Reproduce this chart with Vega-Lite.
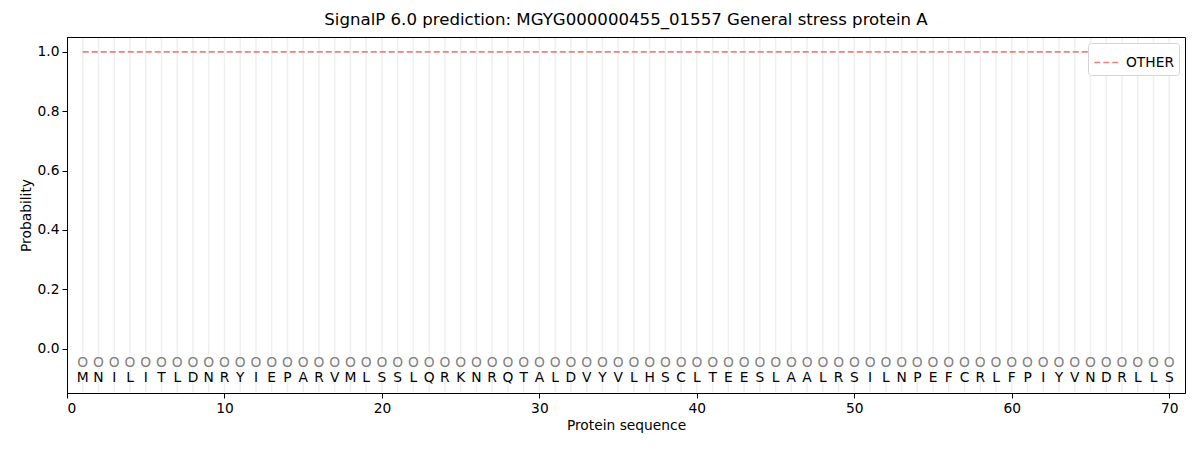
{
  "$schema": "https://vega.github.io/schema/vega-lite/v6.json",
  "width": 1118,
  "height": 356,
  "autosize": {"type": "none"},
  "padding": {"left": 67, "top": 37, "right": 15, "bottom": 57},
  "background": "white",
  "title": {
    "text": "SignalP 6.0 prediction: MGYG000000455_01557 General stress protein A",
    "font": "DejaVu Sans",
    "fontSize": 16.6,
    "fontWeight": "normal",
    "color": "black",
    "offset": 8
  },
  "data": {
    "values": [
      {"pos": 1, "aa": "M", "prob": 1, "label": "OTHER"},
      {"pos": 2, "aa": "N", "prob": 1, "label": "OTHER"},
      {"pos": 3, "aa": "I", "prob": 1, "label": "OTHER"},
      {"pos": 4, "aa": "L", "prob": 1, "label": "OTHER"},
      {"pos": 5, "aa": "I", "prob": 1, "label": "OTHER"},
      {"pos": 6, "aa": "T", "prob": 1, "label": "OTHER"},
      {"pos": 7, "aa": "L", "prob": 1, "label": "OTHER"},
      {"pos": 8, "aa": "D", "prob": 1, "label": "OTHER"},
      {"pos": 9, "aa": "N", "prob": 1, "label": "OTHER"},
      {"pos": 10, "aa": "R", "prob": 1, "label": "OTHER"},
      {"pos": 11, "aa": "Y", "prob": 1, "label": "OTHER"},
      {"pos": 12, "aa": "I", "prob": 1, "label": "OTHER"},
      {"pos": 13, "aa": "E", "prob": 1, "label": "OTHER"},
      {"pos": 14, "aa": "P", "prob": 1, "label": "OTHER"},
      {"pos": 15, "aa": "A", "prob": 1, "label": "OTHER"},
      {"pos": 16, "aa": "R", "prob": 1, "label": "OTHER"},
      {"pos": 17, "aa": "V", "prob": 1, "label": "OTHER"},
      {"pos": 18, "aa": "M", "prob": 1, "label": "OTHER"},
      {"pos": 19, "aa": "L", "prob": 1, "label": "OTHER"},
      {"pos": 20, "aa": "S", "prob": 1, "label": "OTHER"},
      {"pos": 21, "aa": "S", "prob": 1, "label": "OTHER"},
      {"pos": 22, "aa": "L", "prob": 1, "label": "OTHER"},
      {"pos": 23, "aa": "Q", "prob": 1, "label": "OTHER"},
      {"pos": 24, "aa": "R", "prob": 1, "label": "OTHER"},
      {"pos": 25, "aa": "K", "prob": 1, "label": "OTHER"},
      {"pos": 26, "aa": "N", "prob": 1, "label": "OTHER"},
      {"pos": 27, "aa": "R", "prob": 1, "label": "OTHER"},
      {"pos": 28, "aa": "Q", "prob": 1, "label": "OTHER"},
      {"pos": 29, "aa": "T", "prob": 1, "label": "OTHER"},
      {"pos": 30, "aa": "A", "prob": 1, "label": "OTHER"},
      {"pos": 31, "aa": "L", "prob": 1, "label": "OTHER"},
      {"pos": 32, "aa": "D", "prob": 1, "label": "OTHER"},
      {"pos": 33, "aa": "V", "prob": 1, "label": "OTHER"},
      {"pos": 34, "aa": "Y", "prob": 1, "label": "OTHER"},
      {"pos": 35, "aa": "V", "prob": 1, "label": "OTHER"},
      {"pos": 36, "aa": "L", "prob": 1, "label": "OTHER"},
      {"pos": 37, "aa": "H", "prob": 1, "label": "OTHER"},
      {"pos": 38, "aa": "S", "prob": 1, "label": "OTHER"},
      {"pos": 39, "aa": "C", "prob": 1, "label": "OTHER"},
      {"pos": 40, "aa": "L", "prob": 1, "label": "OTHER"},
      {"pos": 41, "aa": "T", "prob": 1, "label": "OTHER"},
      {"pos": 42, "aa": "E", "prob": 1, "label": "OTHER"},
      {"pos": 43, "aa": "E", "prob": 1, "label": "OTHER"},
      {"pos": 44, "aa": "S", "prob": 1, "label": "OTHER"},
      {"pos": 45, "aa": "L", "prob": 1, "label": "OTHER"},
      {"pos": 46, "aa": "A", "prob": 1, "label": "OTHER"},
      {"pos": 47, "aa": "A", "prob": 1, "label": "OTHER"},
      {"pos": 48, "aa": "L", "prob": 1, "label": "OTHER"},
      {"pos": 49, "aa": "R", "prob": 1, "label": "OTHER"},
      {"pos": 50, "aa": "S", "prob": 1, "label": "OTHER"},
      {"pos": 51, "aa": "I", "prob": 1, "label": "OTHER"},
      {"pos": 52, "aa": "L", "prob": 1, "label": "OTHER"},
      {"pos": 53, "aa": "N", "prob": 1, "label": "OTHER"},
      {"pos": 54, "aa": "P", "prob": 1, "label": "OTHER"},
      {"pos": 55, "aa": "E", "prob": 1, "label": "OTHER"},
      {"pos": 56, "aa": "F", "prob": 1, "label": "OTHER"},
      {"pos": 57, "aa": "C", "prob": 1, "label": "OTHER"},
      {"pos": 58, "aa": "R", "prob": 1, "label": "OTHER"},
      {"pos": 59, "aa": "L", "prob": 1, "label": "OTHER"},
      {"pos": 60, "aa": "F", "prob": 1, "label": "OTHER"},
      {"pos": 61, "aa": "P", "prob": 1, "label": "OTHER"},
      {"pos": 62, "aa": "I", "prob": 1, "label": "OTHER"},
      {"pos": 63, "aa": "Y", "prob": 1, "label": "OTHER"},
      {"pos": 64, "aa": "V", "prob": 1, "label": "OTHER"},
      {"pos": 65, "aa": "N", "prob": 1, "label": "OTHER"},
      {"pos": 66, "aa": "D", "prob": 1, "label": "OTHER"},
      {"pos": 67, "aa": "R", "prob": 1, "label": "OTHER"},
      {"pos": 68, "aa": "L", "prob": 1, "label": "OTHER"},
      {"pos": 69, "aa": "L", "prob": 1, "label": "OTHER"},
      {"pos": 70, "aa": "S", "prob": 1, "label": "OTHER"}
    ]
  },
  "encoding": {
    "x": {
      "field": "pos",
      "type": "quantitative",
      "title": "Protein sequence",
      "scale": {"domain": [0, 71], "nice": false, "zero": false},
      "axis": {"values": [0, 10, 20, 30, 40, 50, 60, 70], "grid": false}
    }
  },
  "layer": [
    {
      "mark": {"type": "rule", "color": "#efefef", "strokeWidth": 1.5},
      "encoding": {
        "y": {"datum": -0.148, "type": "quantitative"},
        "y2": {"datum": 1.047}
      }
    },
    {
      "mark": {"type": "line", "strokeDash": [6, 3], "strokeWidth": 1.6},
      "encoding": {
        "y": {
          "field": "prob",
          "type": "quantitative",
          "title": "Probability",
          "scale": {"domain": [-0.15, 1.05], "nice": false, "zero": false},
          "axis": {"values": [0, 0.2, 0.4, 0.6, 0.8, 1.0], "format": ".1f", "grid": false}
        },
        "color": {
          "field": "label",
          "type": "nominal",
          "scale": {"range": ["#f08080"]},
          "legend": {
            "title": null,
            "orient": "top-right",
            "offset": 6,
            "symbolType": "stroke",
            "symbolStrokeWidth": 1.6,
            "symbolDash": [6, 3],
            "symbolSize": 700,
            "labelFontSize": 13.8,
            "labelFont": "DejaVu Sans",
            "labelColor": "black",
            "strokeColor": "#d5d5d5",
            "fillColor": "white",
            "padding": 5,
            "cornerRadius": 3
          }
        }
      }
    },
    {
      "mark": {"type": "text", "text": "O", "color": "#808080", "fontSize": 13.8, "font": "DejaVu Sans"},
      "encoding": {"y": {"datum": -0.05, "type": "quantitative"}}
    },
    {
      "mark": {"type": "text", "color": "black", "fontSize": 13.8, "font": "DejaVu Sans"},
      "encoding": {
        "y": {"datum": -0.1, "type": "quantitative"},
        "text": {"field": "aa", "type": "nominal"}
      }
    }
  ],
  "config": {
    "view": {"stroke": "black", "strokeWidth": 1},
    "axis": {
      "labelFont": "DejaVu Sans",
      "titleFont": "DejaVu Sans",
      "labelFontSize": 13.8,
      "titleFontSize": 13.8,
      "titleFontWeight": "normal",
      "labelColor": "black",
      "titleColor": "black",
      "domainColor": "black",
      "tickColor": "black",
      "tickSize": 5,
      "labelPadding": 3
    }
  }
}
